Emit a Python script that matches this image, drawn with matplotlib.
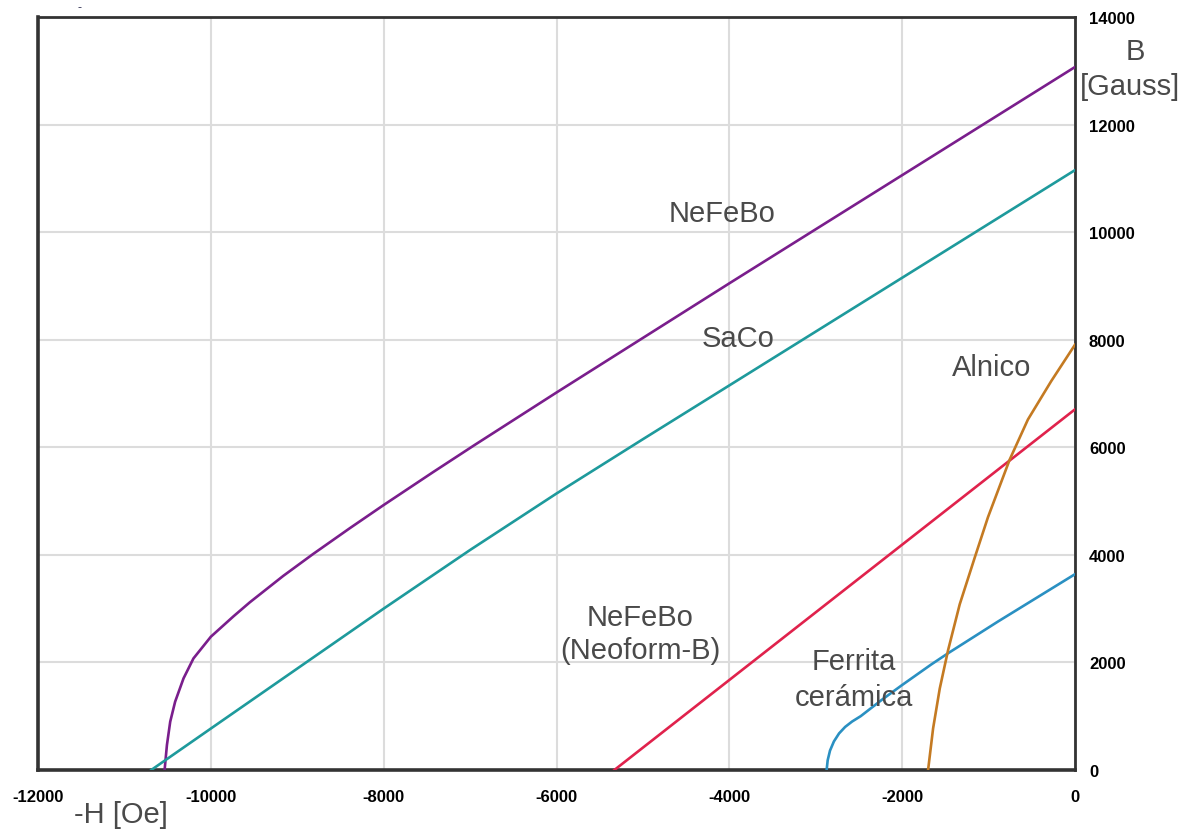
import matplotlib.pyplot as plt

plt.rcParams['font.family'] = ['Liberation Sans', 'DejaVu Sans']
plt.rcParams['axes.unicode_minus'] = False

# curvas de desmagnetización (H en Oe, B en Gauss)
nefebo_h = [-10535, -10508, -10470, -10413, -10316, -10201, -10000, -9739, -9549, -9163,
            -8816, -8390, -8000, -7425, -6940, -6000, -4000, 0]
nefebo_b = [0, 464, 898, 1270, 1703, 2074, 2477, 2855, 3117, 3607,
            4016, 4497, 4926, 5541, 6050, 7018, 9048, 13070]

saco_h = [-10689, -10000, -8000, -7000, -6000, -5000, -4000, 0]
saco_b = [0, 770, 3000, 4090, 5140, 6150, 7150, 11153]

neoform_h = [-5330, 0]
neoform_b = [0, 6705]

ferrita_h = [-2874, -2862, -2835, -2790, -2730, -2660, -2580, -2480, -2239, -2000, -1665, -1469, -891, 0]
ferrita_b = [0, 180, 360, 530, 680, 800, 900, 1000, 1300, 1580, 1960, 2170, 2760, 3640]

alnico_h = [-1700, -1642, -1565, -1469, -1334, -1160, -1007, -756, -545, -275, 0]
alnico_b = [0, 773, 1514, 2225, 3080, 3950, 4700, 5770, 6515, 7230, 7907]

x_ticks = [-12000, -10000, -8000, -6000, -4000, -2000, 0]
y_ticks = [0, 2000, 4000, 6000, 8000, 10000, 12000, 14000]

fig = plt.figure(figsize=(11.96, 8.37), dpi=100)
ax = fig.add_axes([38 / 1196, 0.0789, 1037 / 1196, 0.8996])

lw = 1.9
ax.plot(nefebo_h, nefebo_b, color='#7a1e8c', lw=lw, zorder=3)
ax.plot(saco_h, saco_b, color='#1e9a9c', lw=lw, zorder=3)
ax.plot(neoform_h, neoform_b, color='#e0224c', lw=lw, zorder=3)
ax.plot(ferrita_h, ferrita_b, color='#2a90c2', lw=lw, zorder=3)
ax.plot(alnico_h, alnico_b, color='#c47a22', lw=lw, zorder=3)

ax.set_xlim(-12000, 0)
ax.set_ylim(0, 14000)
ax.set_xticks(x_ticks)
ax.set_yticks(y_ticks)
ax.grid(True, color='#dcdcdc', lw=1.5)
ax.set_axisbelow(True)

ax.yaxis.tick_right()
ax.tick_params(axis='both', length=0, labelsize=12, labelcolor='black')
ax.tick_params(axis='y', pad=10)
ax.tick_params(axis='x', pad=14)
for lab in ax.get_xticklabels() + ax.get_yticklabels():
    lab.set_fontweight('bold')

for side in ['left', 'bottom']:
    ax.spines[side].set_linewidth(2.6)
for side in ['top', 'right']:
    ax.spines[side].set_linewidth(2.0)
for sp in ax.spines.values():
    sp.set_color('#333333')

txt = dict(color='#4a4a4a', fontsize=21, ha='center', va='center')
ax.text(-4085, 10360, 'NeFeBo', **txt)
ax.text(-3900, 8040, 'SaCo', **txt)
ax.text(-960, 7500, 'Alnico', **txt)
ax.text(-5034, 2536, 'NeFeBo\n(Neoform-B)', linespacing=1.25, **txt)
ax.text(-2557, 1690, 'Ferrita\ncerámica', linespacing=1.35, **txt)

fig.text(1135 / 1196, 1 - 52 / 837, 'B', **txt)
fig.text(1130 / 1196, 1 - 87 / 837, '[Gauss]', **txt)
fig.text(121 / 1196, 1 - 815 / 837, '-H [Oe]', **txt)
fig.text(79 / 1196, 1 - 8 / 837, '-', color='#333355', fontsize=9,
         ha='center', va='center')

plt.savefig('out.png', dpi=100)
